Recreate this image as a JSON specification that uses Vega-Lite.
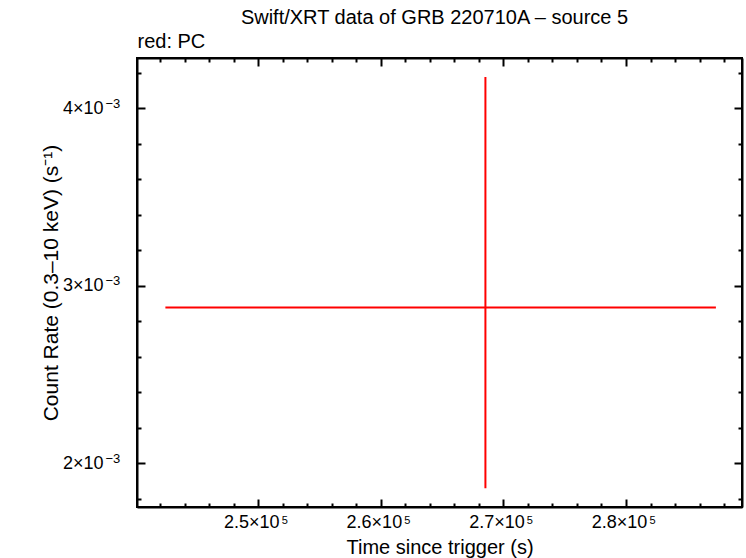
{
  "$schema": "https://vega.github.io/schema/vega-lite/v6.json",
  "width": 605,
  "height": 449,
  "autosize": "none",
  "padding": {"left": 137, "top": 58, "right": 4, "bottom": 51},
  "background": "white",
  "config": {
    "view": {"stroke": "black", "strokeWidth": 2},
    "font": "Liberation Sans",
    "axis": {
      "domainColor": "black",
      "domainWidth": 2,
      "tickColor": "black",
      "tickWidth": 2,
      "grid": false,
      "labelFont": "Liberation Sans",
      "labelFontSize": 18,
      "labelColor": "black",
      "titleFont": "Liberation Sans",
      "titleFontSize": 20,
      "titleFontWeight": "normal",
      "titleColor": "black"
    }
  },
  "title": {
    "text": "Swift/XRT data of GRB 220710A – source 5",
    "anchor": "middle",
    "frame": "group",
    "font": "Liberation Sans",
    "fontSize": 20,
    "fontWeight": "normal",
    "color": "black",
    "offset": 3,
    "dx": -5
  },
  "data": {
    "values": [
      {"t": 268530, "t_lo": 242420, "t_hi": 287335, "rate": 0.002878, "rate_lo": 0.001859, "rate_hi": 0.004176}
    ]
  },
  "layer": [
    {
      "mark": {"type": "rule", "color": "#ff0000", "strokeWidth": 2},
      "encoding": {
        "x": {
          "field": "t_lo", "type": "quantitative",
          "scale": {"domain": [240104, 289464], "nice": false, "zero": false},
          "axis": {
            "orient": "bottom",
            "title": "Time since trigger (s)",
            "titleFontSize": 20,
            "titlePadding": 2,
            "values": [242000,244000,246000,248000,250000,252000,254000,256000,258000,260000,262000,264000,266000,268000,270000,272000,274000,276000,278000,280000,282000,284000,286000,288000],
            "labelExpr": "datum.value % 10000 == 0 ? format(datum.value/100000, '.1f') + '×10' : ''",
            "tickSize": {"condition": {"test": "datum.value % 10000 == 0", "value": -8}, "value": -4},
            "labelPadding": 14,
            "labelOffset": -7,
            "labelOverlap": false,
            "labelFlush": false
          }
        },
        "x2": {"field": "t_hi"},
        "y": {
          "field": "rate", "type": "quantitative",
          "scale": {"domain": [0.0017538, 0.0042834], "nice": false, "zero": false},
          "axis": {
            "orient": "left",
            "title": "Count Rate (0.3–10 keV) (s⁻¹)",
            "titleFontSize": 21,
            "titlePadding": 1,
            "values": [0.0018,0.002,0.0022,0.0024,0.0026,0.0028,0.003,0.0032,0.0034,0.0036,0.0038,0.004,0.0042],
            "labelExpr": "abs(datum.value*1000 - round(datum.value*1000)) < 1e-6 ? round(datum.value*1000) + '×10' : ''",
            "tickSize": {"condition": {"test": "abs(datum.value*1000 - round(datum.value*1000)) < 1e-6", "value": -8}, "value": -4},
            "labelPadding": 42,
            "labelOverlap": false,
            "labelFlush": false
          }
        }
      }
    },
    {
      "mark": {"type": "rule", "color": "#ff0000", "strokeWidth": 2},
      "encoding": {
        "x": {"field": "t", "type": "quantitative", "axis": null},
        "y": {"field": "rate_lo", "type": "quantitative", "axis": null},
        "y2": {"field": "rate_hi"}
      }
    },
    {
      "mark": {"type": "point", "opacity": 0},
      "encoding": {
        "x": {
          "field": "t", "type": "quantitative",
          "axis": {
            "orient": "top",
            "title": "red: PC",
            "titleAnchor": "start",
            "titleAlign": "left",
            "titleFontSize": 20,
            "titlePadding": 6,
            "labels": false,
            "values": [242000,244000,246000,248000,250000,252000,254000,256000,258000,260000,262000,264000,266000,268000,270000,272000,274000,276000,278000,280000,282000,284000,286000,288000],
            "tickSize": {"condition": {"test": "datum.value % 10000 == 0", "value": -8}, "value": -4}
          }
        },
        "y": {
          "field": "rate", "type": "quantitative",
          "axis": {
            "orient": "right",
            "title": null,
            "labels": false,
            "values": [0.0018,0.002,0.0022,0.0024,0.0026,0.0028,0.003,0.0032,0.0034,0.0036,0.0038,0.004,0.0042],
            "tickSize": {"condition": {"test": "abs(datum.value*1000 - round(datum.value*1000)) < 1e-6", "value": -8}, "value": -4}
          }
        }
      }
    },
    {
      "mark": {"type": "point", "opacity": 0},
      "encoding": {
        "x": {
          "field": "t", "type": "quantitative",
          "axis": {
            "orient": "bottom",
            "title": null,
            "domain": false,
            "ticks": false,
            "values": [250000, 260000, 270000, 280000],
            "labelExpr": "'5'",
            "labelFontSize": 11,
            "labelPadding": 7,
            "labelOffset": 26,
            "labelOverlap": false,
            "labelFlush": false
          }
        },
        "y": {
          "field": "rate", "type": "quantitative",
          "axis": {
            "orient": "left",
            "title": null,
            "domain": false,
            "ticks": false,
            "values": [0.002, 0.003, 0.004],
            "labelExpr": "'−3'",
            "labelFontSize": 13,
            "labelAlign": "left",
            "labelPadding": 32,
            "labelOffset": -5,
            "labelOverlap": false,
            "labelFlush": false
          }
        }
      }
    }
  ],
  "resolve": {"axis": {"x": "independent", "y": "independent"}}
}
